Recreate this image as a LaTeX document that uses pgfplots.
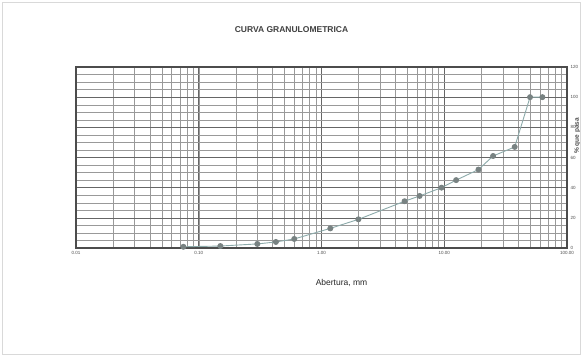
\documentclass[border=0pt]{standalone}
\usepackage{pgfplots}
\pgfplotsset{compat=1.18}
\usepackage{fontspec}
\setmainfont{Liberation Sans}
\definecolor{curve}{RGB}{140,170,170}
\definecolor{mk}{RGB}{120,130,130}
\begin{document}
\begin{tikzpicture}
\useasboundingbox (0pt,0pt) rectangle (582pt,356pt);
\fill[white] (0pt,0pt) rectangle (582pt,356pt);
\begin{axis}[
  at={(76pt,108pt)}, anchor=south west,
  scale only axis, width=491pt, height=181pt,
  xmode=log, xmin=0.01, xmax=100,
  ymin=0, ymax=120,
  axis y line*=right,
  axis x line*=bottom,
  xtick={0.01,0.1,1,10,100},
  xticklabels={0.01,0.10,1.00,10.00,100.00},
  ytick={0,20,...,120},
  minor y tick num=3,
  grid=both,
  major grid style={black!60, line width=0.6pt},
  minor grid style={black!40, line width=0.4pt},
  axis line style={black!70, line width=1.2pt},
  tick style={draw=none},
  every tick label/.append style={font=\fontsize{4.5}{5}\selectfont, text=black!70},
  /pgf/number format/assume math mode=true,
  xlabel={Abertura, mm},
  xlabel style={font=\fontsize{8.5}{9}\selectfont, text=black!85, yshift=-18pt, xshift=20pt},
  ylabel={\% que pasa},
  every axis y label/.style={at={(rel axis cs:1.021,0.62)}, rotate=90, anchor=center,
    font=\fontsize{6.5}{7}\selectfont\bfseries, text=black!70},
  title={CURVA GRANULOMETRICA},
  title style={font=\fontsize{8.5}{9}\selectfont\bfseries, text=black!75, yshift=25pt, xshift=-30pt},
  clip=false,
]
\draw[black!70, line width=1.2pt] (rel axis cs:0,0) rectangle (rel axis cs:1,1);
\addplot[draw=curve, line width=0.9pt, mark=*, mark size=2.5pt,
  mark options={fill=mk, draw=mk}] coordinates {
  (0.075,0.8) (0.15,1.3) (0.3,2.7) (0.425,4) (0.6,6)
  (1.18,13) (2.0,19) (4.75,31) (6.3,34.5) (9.5,40)
  (12.5,45) (19,52) (25,61) (37.5,67) (50,100) (63,100)
};
\end{axis}
\draw[black!15, line width=0.4pt] (2pt,2pt) rectangle (580pt,354pt);
\end{tikzpicture}
\end{document}
